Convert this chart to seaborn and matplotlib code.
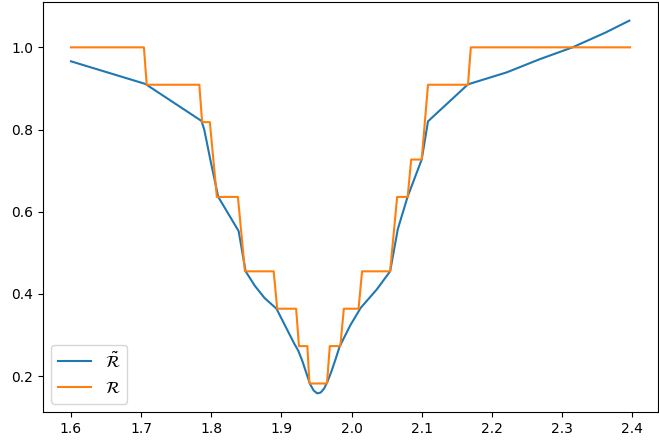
import matplotlib
matplotlib.use("Agg")
import matplotlib.pyplot as plt
import seaborn as sns
import pandas as pd

# Smooth estimate R~ (blue)
blue_x = [1.600, 1.706, 1.770, 1.786, 1.790, 1.799, 1.810, 1.839, 1.849, 1.862,
          1.876, 1.893, 1.918, 1.924, 1.930, 1.936, 1.941, 1.946, 1.951, 1.956,
          1.961, 1.966, 1.971, 1.977, 1.983, 1.998, 2.013, 2.036, 2.055, 2.066,
          2.080, 2.100, 2.109, 2.166, 2.221, 2.268, 2.315, 2.362, 2.396]
blue_y = [0.966, 0.911, 0.839, 0.821, 0.800, 0.724, 0.636, 0.553, 0.455, 0.420,
          0.390, 0.364, 0.280, 0.262, 0.236, 0.205, 0.180, 0.165, 0.158, 0.160,
          0.170, 0.188, 0.210, 0.240, 0.272, 0.323, 0.366, 0.411, 0.455, 0.558,
          0.637, 0.727, 0.820, 0.910, 0.939, 0.971, 1.000, 1.036, 1.065]

# Step function R (orange), corner points
orange_x = [1.600, 1.704, 1.708, 1.783, 1.787, 1.798, 1.808, 1.838, 1.848, 1.889,
            1.894, 1.921, 1.925, 1.937, 1.940, 1.965, 1.969, 1.984, 1.989, 2.010,
            2.015, 2.055, 2.065, 2.080, 2.085, 2.100, 2.109, 2.166, 2.170, 2.397]
orange_y = [1.000, 1.000, 0.909, 0.909, 0.818, 0.818, 0.636, 0.636, 0.455, 0.455,
            0.364, 0.364, 0.273, 0.273, 0.182, 0.182, 0.273, 0.273, 0.364, 0.364,
            0.455, 0.455, 0.636, 0.636, 0.727, 0.727, 0.909, 0.909, 1.000, 1.000]

labels = [r"$\tilde{\mathcal{R}}$", r"$\mathcal{R}$"]

df_blue = pd.DataFrame({"x": blue_x, "y": blue_y})
df_orange = pd.DataFrame({"x": orange_x, "y": orange_y})

fig = plt.figure(figsize=(6.59, 4.47), dpi=100)
ax = fig.add_axes([43 / 659, (447 - 412) / 447, (658 - 43) / 659, (412 - 2) / 447])

sns.lineplot(data=df_blue, x="x", y="y", ax=ax, sort=False, estimator=None,
             color="#1f77b4", linewidth=1.5, label=labels[0])
sns.lineplot(data=df_orange, x="x", y="y", ax=ax, sort=False, estimator=None,
             color="#ff7f0e", linewidth=1.5, label=labels[1])

ax.set_xlabel("")
ax.set_ylabel("")
ax.set_xticks([1.6, 1.7, 1.8, 1.9, 2.0, 2.1, 2.2, 2.3, 2.4])
ax.set_yticks([0.2, 0.4, 0.6, 0.8, 1.0])
ax.legend(loc="lower left", fontsize=12)

fig.savefig("out.png", dpi=100)
